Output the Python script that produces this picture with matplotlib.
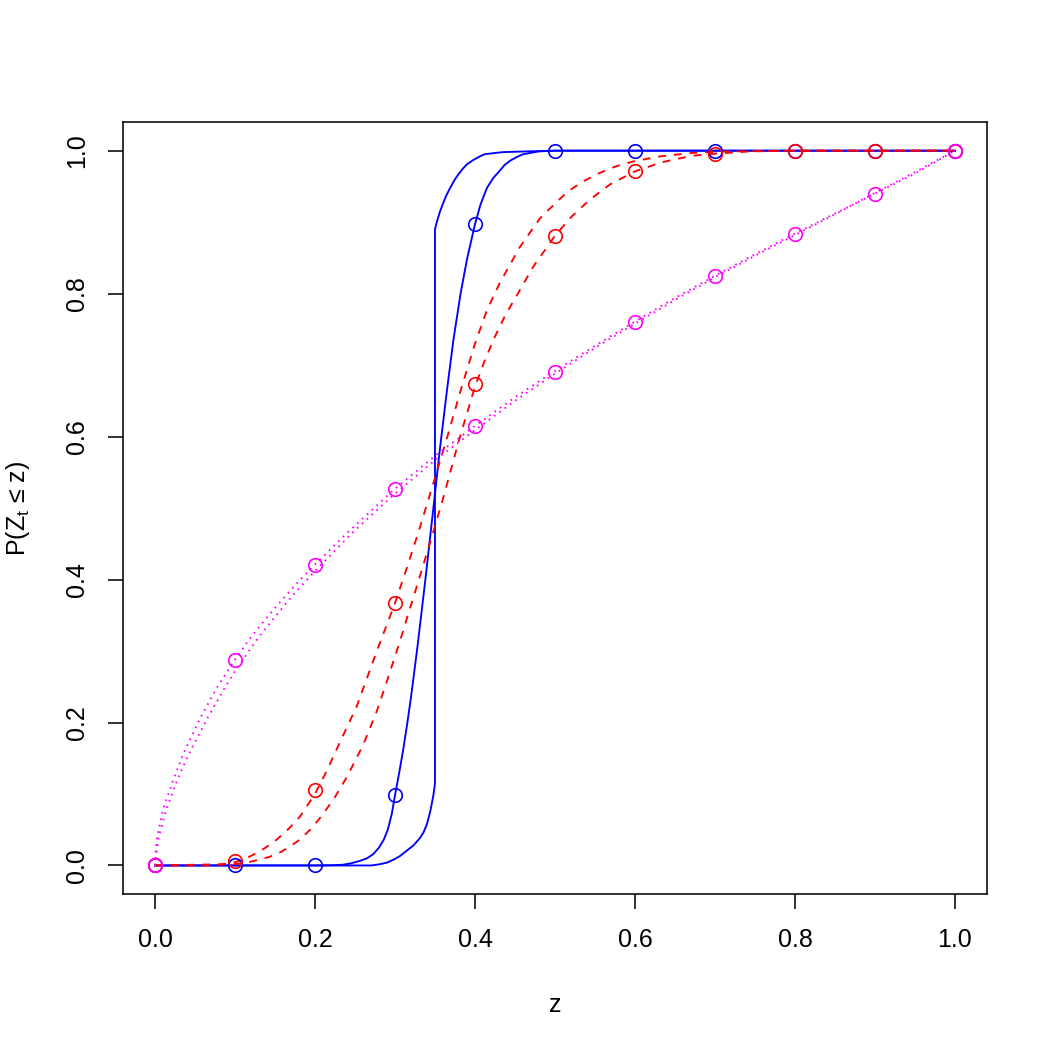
import matplotlib
matplotlib.use("Agg")
import matplotlib.pyplot as plt

plt.rcParams['font.family'] = ['Liberation Sans', 'DejaVu Sans']
plt.rcParams['mathtext.default'] = 'regular'
plt.rcParams['mathtext.fontset'] = 'custom'
plt.rcParams['mathtext.rm'] = 'Liberation Sans'

## grid of z values where the points sit
z_pts = [0.0, 0.1, 0.2, 0.3, 0.4, 0.5, 0.6, 0.7, 0.8, 0.9, 1.0]
blue_pts = [0, 0, 0, 0.099, 0.897, 1, 1, 1, 1, 1, 1]
red_pts = [0, 0.006, 0.105, 0.367, 0.673, 0.881, 0.972, 0.996, 1, 1, 1]
magenta_pts = [0, 0.288, 0.421, 0.527, 0.615, 0.691, 0.761, 0.825, 0.884, 0.940, 1]

## solid blue, smooth
blue1_x = [0, 0.2, 0.22, 0.235, 0.245, 0.255, 0.265, 0.273, 0.28, 0.286, 0.291, 0.296,
           0.3, 0.305, 0.31, 0.315, 0.32, 0.328, 0.3375, 0.347, 0.356, 0.365, 0.373,
           0.382, 0.39, 0.4, 0.407, 0.415, 0.423, 0.431, 0.437, 0.444, 0.452, 0.46, 0.47,
           0.48, 0.5, 1.0]
blue1_y = [0, 0, 0.0003, 0.001, 0.003, 0.006, 0.01, 0.016, 0.025, 0.036, 0.05, 0.072,
           0.098, 0.128, 0.16, 0.196, 0.235, 0.305, 0.395, 0.49, 0.581, 0.665, 0.735,
           0.8, 0.848, 0.897, 0.925, 0.948, 0.962, 0.972, 0.98, 0.986, 0.991, 0.995, 0.997,
           0.999, 1, 1]

## solid blue with the jump at 0.35
blue2_x = [0, 0.27, 0.28, 0.29, 0.298, 0.306, 0.314, 0.323, 0.331, 0.336, 0.34, 0.344,
           0.348, 0.35,
           0.35, 0.352, 0.356, 0.36, 0.364, 0.369, 0.375, 0.38, 0.385, 0.39, 0.398,
           0.406, 0.412, 0.419, 0.435, 0.45, 0.465, 0.5, 1.0]
blue2_y = [0, 0, 0.0015, 0.004, 0.008, 0.013, 0.02, 0.028, 0.038, 0.047, 0.058, 0.075,
           0.098, 0.115,
           0.89, 0.899, 0.914, 0.926, 0.937, 0.948, 0.96, 0.968, 0.975, 0.981, 0.987,
           0.992, 0.995, 0.996, 0.998, 0.9985, 0.999, 1, 1]

## red dashed, left one
red1_x = [0, 0.06, 0.08, 0.098, 0.11, 0.123, 0.137, 0.152, 0.166, 0.181, 0.2, 0.215,
          0.231, 0.252, 0.275, 0.3, 0.315, 0.329, 0.348, 0.365, 0.383, 0.4, 0.415, 0.431,
          0.456, 0.481, 0.5, 0.515, 0.535, 0.556, 0.576, 0.598, 0.631, 0.673, 0.715,
          0.8, 1.0]
red1_y = [0, 0, 0.001, 0.004, 0.008, 0.015, 0.024, 0.036, 0.05, 0.068, 0.1, 0.133,
          0.172, 0.222, 0.293, 0.367, 0.417, 0.465, 0.535, 0.598, 0.668, 0.73, 0.777, 0.815,
          0.865, 0.905, 0.926, 0.942, 0.957, 0.969, 0.978, 0.985, 0.992, 0.997, 0.999,
          1, 1]

## red dashed, right one
red2_x = [0, 0.1, 0.115, 0.13, 0.143, 0.156, 0.168, 0.181, 0.194, 0.206, 0.223, 0.24,
          0.26, 0.277, 0.29, 0.306, 0.318, 0.331, 0.345, 0.36, 0.38, 0.4, 0.412, 0.425,
          0.438, 0.452, 0.473, 0.5, 0.52, 0.544, 0.569, 0.6, 0.631, 0.65, 0.673, 0.702,
          0.744, 0.8, 1.0]
red2_y = [0, 0.002, 0.004, 0.008, 0.012, 0.018, 0.026, 0.036, 0.05, 0.066, 0.092, 0.124,
          0.168, 0.215, 0.258, 0.313, 0.357, 0.404, 0.456, 0.513, 0.595, 0.67, 0.706, 0.74,
          0.77, 0.797, 0.838, 0.881, 0.907, 0.932, 0.953, 0.971, 0.983, 0.988, 0.993,
          0.996, 0.999, 1, 1]

## magenta dotted, two nearly equal curves
mag1_x = [0, 0.002, 0.01, 0.023, 0.035, 0.056, 0.077, 0.1, 0.119, 0.14, 0.16, 0.18,
          0.2, 0.24, 0.3, 0.35, 0.4, 0.45, 0.5, 0.55, 0.6, 0.65, 0.7, 0.75, 0.8, 0.85,
          0.9, 0.95, 1.0]
mag1_y = [0, 0.036, 0.078, 0.12, 0.155, 0.205, 0.248, 0.288, 0.318, 0.347, 0.373, 0.398,
          0.421, 0.465, 0.527, 0.573, 0.615, 0.655, 0.692, 0.727, 0.761, 0.794, 0.825,
          0.855, 0.884, 0.912, 0.940, 0.968, 1.0]
mag2_x = [0, 0.004, 0.014, 0.028, 0.042, 0.065, 0.087, 0.1, 0.13, 0.17, 0.2, 0.25,
          0.3, 0.35, 0.4, 0.45, 0.5, 0.55, 0.6, 0.65, 0.7, 0.75, 0.8, 0.85, 0.9, 0.95, 1.0]
mag2_y = [0, 0.036, 0.078, 0.12, 0.155, 0.205, 0.248, 0.272, 0.32, 0.375, 0.412, 0.469,
          0.52, 0.567, 0.609, 0.65, 0.688, 0.724, 0.758, 0.791, 0.823, 0.853, 0.882, 0.911,
          0.941, 0.97, 1.0]

fig = plt.figure(figsize=(7, 1048 / 150), dpi=150)
ax = fig.add_axes([0.1171, 0.1469, 0.8229, 0.7366])

lw = 0.9
ax.plot(blue1_x, blue1_y, color='#0000FF', lw=lw)
ax.plot(blue2_x, blue2_y, color='#0000FF', lw=lw)
ax.plot(red1_x, red1_y, color='#FF0000', lw=lw, dashes=(4.2, 4.2))
ax.plot(red2_x, red2_y, color='#FF0000', lw=lw, dashes=(4.2, 4.2))
ax.plot(mag1_x, mag1_y, color='#FF00FF', lw=lw, dashes=(0.9, 2.6))
ax.plot(mag2_x, mag2_y, color='#FF00FF', lw=lw, dashes=(0.9, 2.6))

## points
for vals, col in [(blue_pts, '#0000FF'), (red_pts, '#FF0000'), (magenta_pts, '#FF00FF')]:
    ax.plot(z_pts, vals, 'o', mfc='none', mec=col, mew=0.8, ms=6.5)

ax.set_xlim(-0.04, 1.04)
ax.set_ylim(-0.04, 1.04)
ax.set_xticks([0, 0.2, 0.4, 0.6, 0.8, 1.0])
ax.set_yticks([0, 0.2, 0.4, 0.6, 0.8, 1.0])
ax.set_xticklabels(['0.0', '0.2', '0.4', '0.6', '0.8', '1.0'])
ax.set_yticklabels(['0.0', '0.2', '0.4', '0.6', '0.8', '1.0'], rotation=90, va='center')
ax.tick_params(direction='out', length=7.2, width=0.75, labelsize=12, pad=9)
for s in ax.spines.values():
    s.set_linewidth(0.75)

ax.set_xlabel('z', fontsize=12, labelpad=20)
ax.set_ylabel('P(Z$_t$ ≤ z)', fontsize=12, labelpad=16)

fig.savefig('out.png', dpi=150)
